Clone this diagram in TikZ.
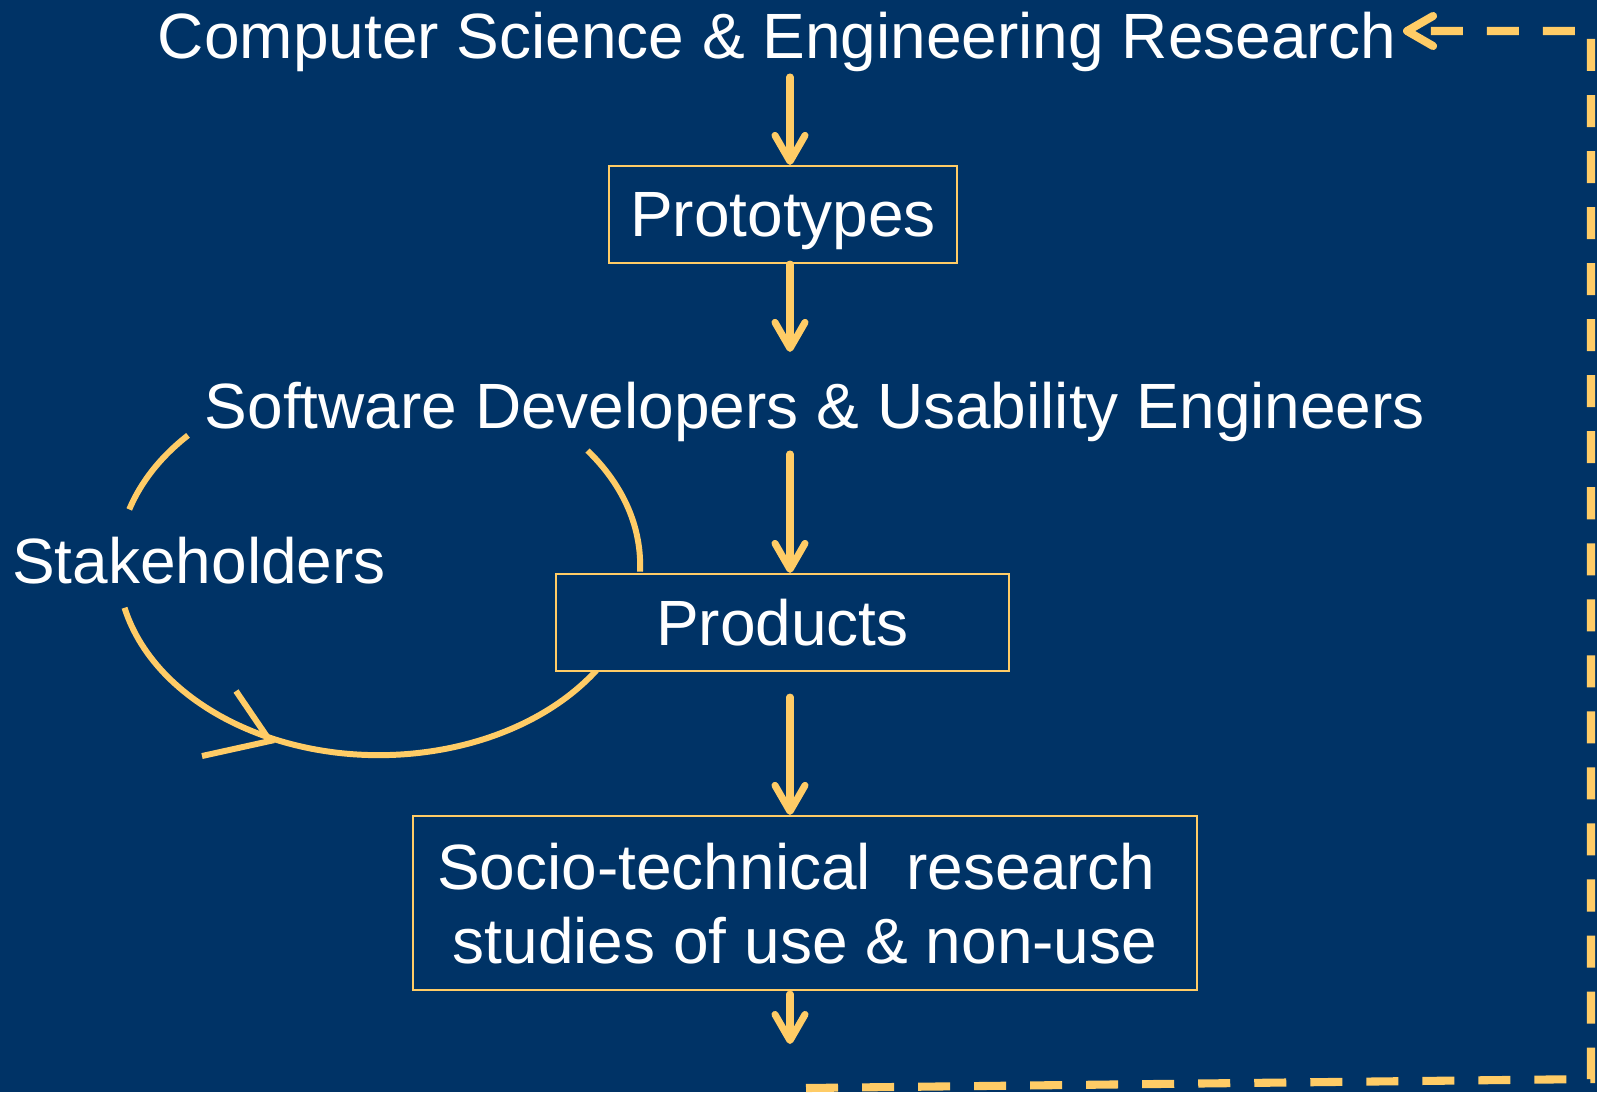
\documentclass[tikz,border=0pt]{standalone}
\usepackage{fontspec}
\setmainfont{Liberation Sans}
\usepackage{xcolor}
\usepackage{tikz}
\usetikzlibrary{arrows.meta,positioning}
\definecolor{bg}{HTML}{003366}
\definecolor{gold}{HTML}{FFCC66}
\definecolor{ink}{HTML}{FFFFFF}
\tikzset{
  lab/.style={text=ink, font=\fontsize{18.2}{21}\selectfont, inner sep=0pt},
  box/.style={lab, draw=gold, line width=0.6pt, fill=bg, text depth=0pt},
  flow/.style={draw=gold, line width=2pt, line cap=round, -{Straight Barb[length=2.6mm, width=3mm, round]}},
  back/.style={draw=gold, line width=2.3pt, dash pattern=on 0.32cm off 0.24cm, -{Straight Barb[length=2.6mm, width=3mm, round]}},
  loop/.style={draw=gold, line width=1.7pt},
}

\begin{document}
\begin{tikzpicture}[x=0.01cm, y=-0.01cm]
\fill[bg] (0,0) rectangle (1597,1092);

\node[lab, anchor=base] (title) at (777,58) {Computer Science \& Engineering Research};
\node[box, minimum width=3.48cm, minimum height=0.97cm] (proto) at (783,214.5) {Prototypes};
\node[lab, anchor=base] (dev) at (815,428) {Software Developers \& Usability Engineers};
\node[lab, anchor=base] (stake) at (199,583) {Stakeholders};

% loop round the stakeholders
\coordinate (loopc) at (379,565);
\draw[loop] ([shift={(137:2.61cm and 1.9cm)}]loopc) arc[start angle=137, end angle=163, x radius=2.61cm, y radius=1.9cm];
\draw[loop] ([shift={(193:2.61cm and 1.9cm)}]loopc) arc[start angle=193, end angle=327, x radius=2.61cm, y radius=1.9cm];
\draw[loop] ([shift={(358:2.61cm and 1.9cm)}]loopc) arc[start angle=358, end angle=397, x radius=2.61cm, y radius=1.9cm];
\draw[loop] (236,691) -- (270,741) -- (202,756);

\node[box, minimum width=4.53cm, minimum height=0.97cm] (prod) at (782.5,622.5) {Products};
\node[box, minimum width=7.84cm, minimum height=1.74cm, align=center] (socio) at (805,903)
  {Socio-technical~ research\hspace*{0.27em}\\studies of use \& non-use};

\coordinate (axis) at (790,0);
\coordinate (out) at (790,1044);
\coordinate (ret) at (1403,31);

\draw[flow, shorten <=0.05cm] (title.south -| axis) -- (proto.north -| axis);
\draw[flow, shorten >=0.29cm] (proto.south -| axis) -- (dev.north -| axis);
\draw[flow, shorten <=0.12cm] (dev.south -| axis) -- (prod.north -| axis);
\draw[flow, shorten <=0.25cm] (prod.south -| axis) -- (socio.north -| axis);
\draw[flow, shorten <=0.03cm] (socio.south -| axis) -- (out);

% feedback to research
\draw[back] (806,1088) -- (1591,1079) -- (1591,31) -- (ret);
\end{tikzpicture}
\end{document}
